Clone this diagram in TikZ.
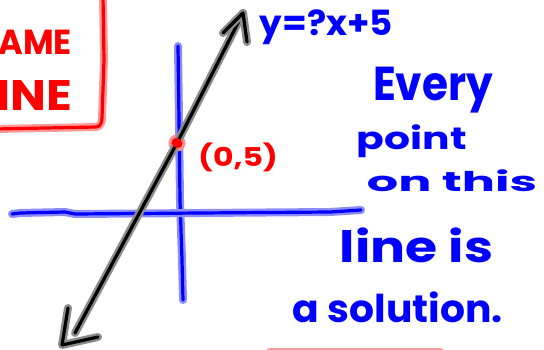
\documentclass[tikz,border=0pt]{standalone}
\usepackage{fontspec}
\setmainfont{Poppins}
\newfontfamily\hand{Poppins}
\usepackage{graphicx}
\newcommand\fitto[3]{\resizebox*{#1}{#2}{\hand\bfseries #3}}
\tikzset{
  inkblue/.style={draw=blue, line width=3.2pt, line cap=round, line join=round,
    preaction={draw=blue!45, line width=8pt, line cap=round, line join=round}},
  inkred/.style={draw=red, line width=3.2pt, line cap=round, line join=round,
    preaction={draw=red!40, line width=8pt, line cap=round, line join=round}},
  inkblack/.style={draw=black, line width=3.2pt, line cap=round, line join=round,
    preaction={draw=black!45, line width=8pt, line cap=round, line join=round}},
  btext/.style={text=blue, inner sep=0pt, anchor=center},
  rtext/.style={text=red, inner sep=0pt, anchor=center},
}
\begin{document}
\begin{tikzpicture}[x=1pt, y=-1pt]
\useasboundingbox (0,0) rectangle (544,349);
\clip (0,0) rectangle (544,349);
% red box (SAME LINE)
\coordinate (bxTop) at (103,-5);
\coordinate (bxLeft) at (-5,129);
\draw[inkred] (bxTop) -- (104,60) -- (102,118) to[out=-90,in=0] (96,127) -- (bxLeft);
\node[rtext] (same) at (25,42.5) {\fitto{94pt}{25pt}{SAME}};
\node[rtext] (line) at (22.7,95) {\fitto{98.5pt}{30pt}{LINE}};
% axes
\coordinate (vTop) at (178,46);
\coordinate (vBot) at (183,300);
\coordinate (hL) at (12,214);
\coordinate (hR) at (361,210);
\draw[inkblue] (vTop) -- (179,120) -- (180,200) -- (182,260) -- (vBot);
\draw[inkblue] (hL) -- (20,213) -- (65,212) -- (75,214) -- (200,213) -- (330,212) -- (hR);
% the line
\coordinate (tipT) at (243,13);
\coordinate (tipB) at (62,345);
\coordinate (lineEnd) at (75,333);
\node[circle, fill=red, draw=red!45, line width=3pt, minimum size=14pt, inner sep=0pt] (pt) at (177,143) {};
\draw[inkblack] (lineEnd) -- (pt.center) -- (tipT);
\draw[inkblack] (223,33) -- (tipT) -- (247,42);
\draw[inkblack] (68,308) -- (tipB) -- (98,337);
\fill[red] (pt) circle (5pt);
% labels
\node[btext] (eq) at (326.5,27.5) {\fitto{133pt}{35pt}{y=?x+5}};
\node[rtext] (ptlab) at (238,157.5) {\fitto{80pt}{29pt}{(0,5)}};
\node[btext] (t1) at (433,90) {\fitto{120pt}{46pt}{Every}};
\node[btext] (t2) at (412,141.5) {\fitto{110pt}{33pt}{point}};
\node[btext] (t3) at (452,181) {\fitto{170pt}{22pt}{on this}};
\node[btext] (t4) at (416.5,245.5) {\fitto{153pt}{35pt}{line is}};
\node[btext] (t5) at (398,307.5) {\fitto{210pt}{31pt}{a solution.}};
% red stroke at bottom edge
\coordinate (rL) at (270,351.5);
\coordinate (rR) at (440,351.5);
\draw[inkred, line width=4pt] (rL) -- (rR);
\end{tikzpicture}
\end{document}
